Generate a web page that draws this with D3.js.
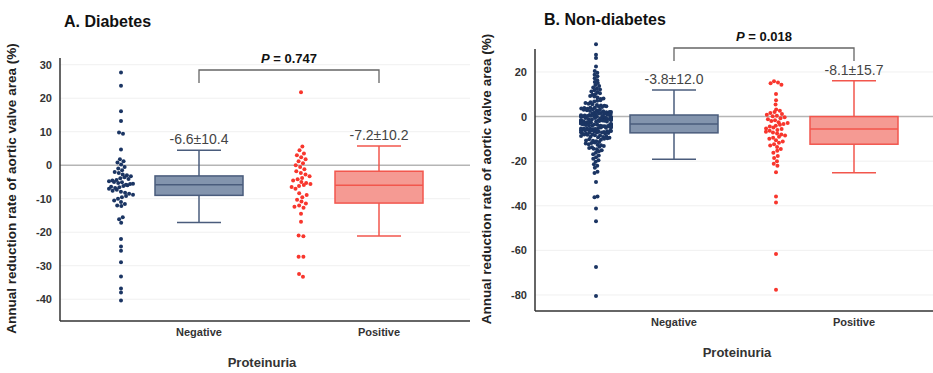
<!DOCTYPE html>
<html>
<head>
<meta charset="utf-8">
<script src="https://cdn.jsdelivr.net/npm/d3@7"></script>
<style>
  body { margin: 0; background: #fff; }
  svg { font-family: "Liberation Sans", Arial, sans-serif; }
</style>
</head>
<body>
<svg id="chart" width="933" height="373"></svg>
<script>
// categories and summary stats
const categories = ["Negative", "Positive"];

const aTicks = [30, 20, 10, 0, -10, -20, -30, -40];
const bTicks = [20, 0, -20, -40, -60, -80];

// box stats: [Negative, Positive]
const aLow = [-17.1, -21.1], aQ1 = [-9.0, -11.3], aMed = [-5.8, -6.0], aQ3 = [-3.2, -1.8], aHigh = [4.5, 5.7];
const bLow = [-19.1, -25.2], bQ1 = [-7.3, -12.4], bMed = [-3.3, -5.6], bQ3 = [0.7, 0.0], bHigh = [11.9, 16.1];
const aLabels = ["-6.6±10.4", "-7.2±10.2"];
const bLabels = ["-3.8±12.0", "-8.1±15.7"];

// individual patients (estimated from the dots)
const aNeg = [27.7, 23.7, 16.1, 13.2, 9.8, 9.4, 4.7, 1.8, 1.2, 0.8, 0.2, -0.5, -1.0, -1.5, -2.0, -2.3, -2.8, -3.0,
  -3.3, -3.6, -3.9, -4.1, -4.4, -4.6, -4.8, -5.0, -5.1, -5.3, -5.5, -5.6, -5.8, -6.0, -6.2, -6.4, -6.6, -6.8,
  -7.0, -7.3, -7.6, -7.9, -8.2, -8.5, -8.8, -9.2, -9.6, -10.0, -10.5, -11.0, -11.6, -12.0, -12.2, -15.5, -16.1,
  -17.2, -22.0, -24.3, -25.5, -29.0, -33.2, -36.8, -38.0, -40.4];
const aPos = [21.8, 5.6, 4.5, 3.5, 3.0, 2.4, 1.8, 1.2, 0.6, 0.0, -0.5, -1.2, -1.8, -2.3, -2.8, -3.3, -3.8, -4.2,
  -4.6, -5.0, -5.3, -5.6, -5.9, -6.2, -6.5, -7.0, -8.4, -8.9, -9.6, -10.3, -10.8, -11.4, -12.0, -12.4, -12.7,
  -14.5, -16.9, -21.0, -21.2, -27.3, -27.3, -32.5, -33.3];
const bNeg = [32.4, 27.7, 26.3, 22.5, 20.4, 19.6, 18.7, 18.1, 17.2, 16.3, 15.5, 15.0, 14.1, 13.7, 13.0, 12.6, 12.1,
  11.8, 11.2, 11.0, 10.4, 10.1, 9.8, 9.2, 9.0, 8.6, 8.1, 7.9, 7.3, 7.1, 6.8, 6.4, 6.1, 5.7, 5.5, 5.2, 5.0,
  4.8, 4.6, 4.5, 4.3, 4.1, 3.9, 3.8, 3.6, 3.5, 3.3, 3.1, 3.0, 2.8, 2.7, 2.5, 2.4, 2.2, 2.1, 2.0, 1.9, 1.8, 1.6,
  1.5, 1.4, 1.2, 1.1, 0.9, 0.9, 0.8, 0.7, 0.6, 0.5, 0.4, 0.3, 0.3, 0.2, 0.1, 0.0, 0.0, -0.1,
  -0.2, -0.3, -0.4, -0.5, -0.6, -0.7, -0.7, -0.8, -0.9, -1.0, -1.1, -1.2, -1.3, -1.3, -1.4, -1.5, -1.6, -1.7,
  -1.8, -1.9, -1.9, -2.0, -2.1, -2.2, -2.2, -2.3, -2.4, -2.5, -2.6, -2.7, -2.8, -2.9, -2.9, -3.0, -3.1, -3.2,
  -3.3, -3.4, -3.5, -3.6, -3.6, -3.7, -3.8, -3.9, -4.0, -4.1, -4.1, -4.2, -4.3, -4.4, -4.5, -4.6, -4.7, -4.8, -4.9,
  -5.0, -5.1, -5.2, -5.3, -5.4, -5.5, -5.6, -5.7, -5.8, -5.9, -6.0, -6.1, -6.2, -6.3, -6.4, -6.5, -6.6, -6.7,
  -6.8, -6.9, -7.0, -7.1, -7.2, -7.3, -7.4, -7.6, -7.7, -7.8, -8.0, -8.1, -8.2, -8.4, -8.5, -8.7, -8.8, -9.0,
  -9.2, -9.3, -9.5, -9.7, -9.9, -10.2, -10.4, -10.7, -10.9, -11.1, -11.4, -11.6, -11.9, -12.1, -12.4, -12.6,
  -12.9, -13.2, -13.5, -13.8, -14.1, -14.4, -14.7, -15.1, -15.6, -16.2, -16.9, -17.5, -18.2, -18.9, -19.6,
  -20.3, -21.4, -22.1, -23.0, -24.8, -25.3, -29.3, -35.8, -36.2, -41.2, -47.0, -67.5, -80.5];
const bPos = [15.8, 15.3, 14.9, 14.3, 10.1, 7.3, 5.4, 3.2, 2.6, 2.1, 1.6, 1.2, 0.8, 0.4, 0.1, -0.3, -0.8, -1.2,
  -1.6, -2.0, -2.5, -2.9, -3.3, -3.7, -4.1, -4.5, -4.9, -5.3, -5.6, -6.0, -6.4, -6.8, -7.2, -7.6, -8.0, -8.5,
  -9.0, -9.5, -10.0, -10.6, -11.2, -11.8, -12.4, -13.0, -13.7, -14.5, -15.3, -16.2, -17.7, -18.6, -20.0,
  -21.2, -22.1, -25.0, -35.8, -38.5, -61.6, -77.7];

const negFill = "#8394ad", negStroke = "#4a5c7c", negDot = "#1b3563";
const posFill = "#f59a93", posStroke = "#f2564d", posDot = "#f8362d";

const svg = d3.select("#chart");

function panel(opt) {
  const g = svg.append("g");
  const y = d3.scaleLinear().domain(opt.domain).range([opt.bottom, opt.top]);
  const c0 = opt.left + 139;
  const x = d3.scalePoint().domain(categories).range([c0, c0 + 180]);

  // grid
  g.selectAll(".grid").data(opt.ticks).join("line")
    .attr("x1", opt.left).attr("x2", opt.right)
    .attr("y1", d => y(d)).attr("y2", d => y(d))
    .attr("stroke", d => d === 0 ? "#b5b5b5" : "#f0f0f0")
    .attr("stroke-width", d => d === 0 ? 1.5 : 1);

  // axes
  g.append("line").attr("x1", opt.left).attr("x2", opt.left)
    .attr("y1", opt.top).attr("y2", opt.bottom).attr("stroke", "#333").attr("stroke-width", 1.5);
  g.append("line").attr("x1", opt.left).attr("x2", opt.right)
    .attr("y1", opt.bottom).attr("y2", opt.bottom).attr("stroke", "#333").attr("stroke-width", 1.5);

  g.selectAll(".ytick").data(opt.ticks).join("text")
    .attr("x", opt.left - 8).attr("y", d => y(d) + 4)
    .attr("text-anchor", "end").attr("font-size", 11).attr("font-weight", "bold").attr("fill", "#333")
    .text(d => d);

  g.selectAll(".xtick").data(categories).join("text")
    .attr("x", d => x(d)).attr("y", opt.bottom + 15)
    .attr("text-anchor", "middle").attr("font-size", 11).attr("font-weight", "bold").attr("fill", "#333")
    .text(d => d);

  g.append("text").attr("x", opt.left + 202).attr("y", opt.bottom + 46)
    .attr("text-anchor", "middle").attr("font-size", 13).attr("font-weight", "bold").attr("fill", "#333")
    .text("Proteinuria");

  g.append("text")
    .attr("transform", `translate(${opt.left - 44},${(opt.top + opt.bottom) / 2 - 1}) rotate(-90)`)
    .attr("text-anchor", "middle").attr("font-size", 13.5).attr("font-weight", "bold").attr("fill", "#222")
    .text("Annual reduction rate of aortic valve area (%)");

  g.append("text").attr("x", opt.titleX).attr("y", opt.titleY)
    .attr("font-size", 16).attr("font-weight", "bold").attr("fill", "#111")
    .text(opt.title);

  // boxes
  const fills = [negFill, posFill], strokes = [negStroke, posStroke];
  categories.forEach((cat, i) => {
    const cx = x(cat), bw = 88, cw = 44;
    const s = strokes[i];
    const bx = g.append("g");
    bx.append("line").attr("x1", cx).attr("x2", cx).attr("y1", y(opt.high[i])).attr("y2", y(opt.q3[i]))
      .attr("stroke", s).attr("stroke-width", 1.5);
    bx.append("line").attr("x1", cx).attr("x2", cx).attr("y1", y(opt.q1[i])).attr("y2", y(opt.low[i]))
      .attr("stroke", s).attr("stroke-width", 1.5);
    [opt.high[i], opt.low[i]].forEach(v => {
      bx.append("line").attr("x1", cx - cw / 2).attr("x2", cx + cw / 2).attr("y1", y(v)).attr("y2", y(v))
        .attr("stroke", s).attr("stroke-width", 1.5);
    });
    bx.append("rect").attr("x", cx - bw / 2).attr("width", bw)
      .attr("y", y(opt.q3[i])).attr("height", y(opt.q1[i]) - y(opt.q3[i]))
      .attr("fill", fills[i]).attr("stroke", s).attr("stroke-width", 1.5);
    bx.append("line").attr("x1", cx - bw / 2).attr("x2", cx + bw / 2)
      .attr("y1", y(opt.med[i])).attr("y2", y(opt.med[i])).attr("stroke", s).attr("stroke-width", 1.5);
    g.append("text").attr("x", cx).attr("y", y(opt.high[i]) - 6)
      .attr("text-anchor", "middle").attr("font-size", 14).attr("fill", "#444")
      .text(opt.labels[i]);
  });

  // dots, laid out as a loose swarm left of each box
  const groups = [opt.neg, opt.pos], dotCols = [negDot, posDot];
  categories.forEach((cat, i) => {
    const cx = x(cat) - 78;
    const nodes = groups[i].map(v => ({ v, x: cx, y: y(v) }));
    d3.forceSimulation(nodes)
      .force("x", d3.forceX(cx).strength(0.04))
      .force("y", d3.forceY(d => y(d.v)).strength(1))
      .force("c", d3.forceCollide(opt.collide[i]))
      .stop().tick(250);
    g.selectAll(null).data(nodes).join("circle")
      .attr("cx", d => Math.max(cx - opt.spread, Math.min(cx + opt.spread, d.x)))
      .attr("cy", d => y(d.v))
      .attr("r", 2).attr("fill", dotCols[i]);
  });

  // significance bracket
  const bTop = opt.bracketY, bl = x(categories[0]), br = x(categories[1]);
  g.append("path")
    .attr("d", `M${bl},${bTop + 13}V${bTop}H${br}V${bTop + 13}`)
    .attr("fill", "none").attr("stroke", "#666").attr("stroke-width", 1.3);
  const pt = g.append("text").attr("x", (bl + br) / 2).attr("y", bTop - 7)
    .attr("text-anchor", "middle").attr("font-size", 13).attr("font-weight", "bold").attr("fill", "#111");
  pt.append("tspan").attr("font-style", "italic").text("P");
  pt.append("tspan").text(" = " + opt.p);
}

panel({
  title: "A. Diabetes", titleX: 64, titleY: 27,
  left: 60, right: 470, top: 58, bottom: 321,
  domain: [-46.5, 32], ticks: aTicks,
  low: aLow, q1: aQ1, med: aMed, q3: aQ3, high: aHigh, labels: aLabels,
  neg: aNeg, pos: aPos, collide: [2.1, 2.4], spread: 12,
  bracketY: 70, p: "0.747"
});

panel({
  title: "B. Non-diabetes", titleX: 544, titleY: 25,
  left: 535, right: 933, top: 49, bottom: 311,
  domain: [-87.2, 30.3], ticks: bTicks,
  low: bLow, q1: bQ1, med: bMed, q3: bQ3, high: bHigh, labels: bLabels,
  neg: bNeg, pos: bPos, collide: [1.6, 2.1], spread: 15,
  bracketY: 48, p: "0.018"
});
</script>
</body>
</html>
